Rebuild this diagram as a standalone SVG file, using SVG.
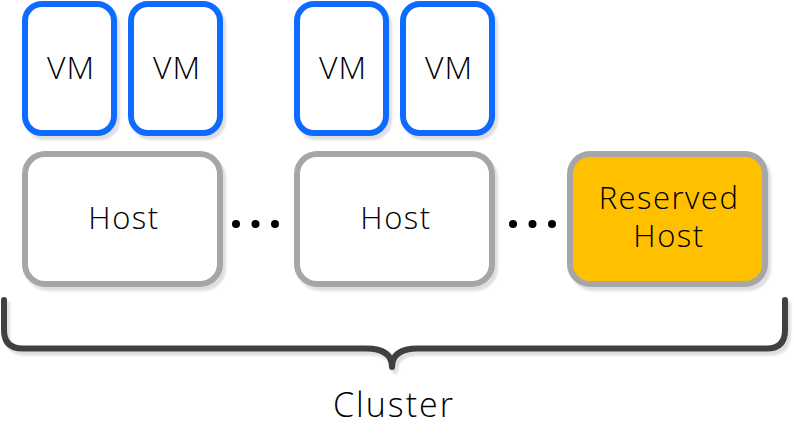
<svg xmlns="http://www.w3.org/2000/svg" width="794" height="446" viewBox="0 0 794 446">
<defs>
<filter id="sh" x="-10%" y="-10%" width="130%" height="130%">
<feDropShadow dx="3" dy="4" stdDeviation="1" flood-color="#000" flood-opacity="0.13"/>
</filter>
</defs>
<style>
.vm{fill:#fff;stroke:#0A6CFF;stroke-width:6;filter:url(#sh)}
.host{fill:#fff;stroke:#A6A6A6;stroke-width:6;filter:url(#sh)}
.res{fill:#FFC000;stroke:#A6A6A6;stroke-width:6;filter:url(#sh)}
.t{font-family:"Open Sans","Noto Sans",sans-serif;font-weight:300;fill:#000;text-anchor:middle}
.s{font-size:32px;letter-spacing:1px}
.h{font-size:31px;letter-spacing:1.5px}
.c{font-size:34px;letter-spacing:2px}
.dot{fill:#000}
.br{fill:none;stroke:#404040;stroke-width:6;stroke-linecap:round;stroke-linejoin:round;filter:url(#sh)}
</style>
<rect width="794" height="446" fill="#fff"/>
<g id="vm1"><rect class="vm" x="25" y="4" width="89" height="129" rx="17"/><text class="t s" x="71" y="79">VM</text></g>
<g id="vm2"><rect class="vm" x="131" y="4" width="89" height="129" rx="17"/><text class="t s" x="177" y="79">VM</text></g>
<g id="vm3"><rect class="vm" x="297" y="4" width="89" height="129" rx="17"/><text class="t s" x="343" y="79">VM</text></g>
<g id="vm4"><rect class="vm" x="403" y="4" width="89" height="129" rx="17"/><text class="t s" x="449" y="79">VM</text></g>
<g id="host1"><rect class="host" x="25" y="154" width="195" height="130" rx="20"/><text class="t h" x="124" y="229">Host</text></g>
<g id="host2"><rect class="host" x="297" y="154" width="195" height="130" rx="20"/><text class="t h" x="396" y="229">Host</text></g>
<g id="reserved"><rect class="res" x="570" y="154" width="195" height="130" rx="20"/><text class="t h" x="669" y="209">Reserved</text><text class="t h" x="669" y="247">Host</text></g>
<g id="dots1"><circle class="dot" cx="236" cy="224" r="4"/><circle class="dot" cx="255.5" cy="224" r="4"/><circle class="dot" cx="275" cy="224" r="4"/></g>
<g id="dots2"><circle class="dot" cx="513" cy="224" r="4"/><circle class="dot" cx="532.5" cy="224" r="4"/><circle class="dot" cx="552" cy="224" r="4"/></g>
<g id="connectors">
<path class="br" d="M4 300 V330 Q4 348.5 22.5 348.5 H366 Q392 348.5 392 367 Q392 348.5 418 348.5 H767 Q785 348.5 785 330 V300"/>
</g>
<text id="cluster" class="t c" x="394" y="417">Cluster</text>
</svg>
